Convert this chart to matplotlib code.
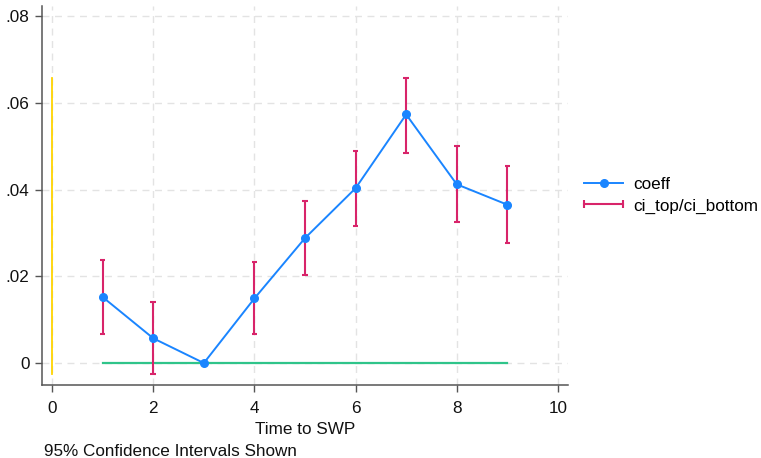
import numpy as np
import matplotlib.pyplot as plt
from matplotlib.lines import Line2D
from matplotlib.legend_handler import HandlerLine2D

plt.rcParams['font.family'] = ['Liberation Sans', 'DejaVu Sans']

# event time and estimates
time = [1, 2, 3, 4, 5, 6, 7, 8, 9]
coeff = [0.0152, 0.0057, 0.0, 0.0149, 0.0288, 0.0403, 0.0573, 0.0412, 0.0365]
ci_top = [0.0237, 0.0140, np.nan, 0.0232, 0.0373, 0.0488, 0.0658, 0.0500, 0.0454]
ci_bottom = [0.0068, -0.0025, np.nan, 0.0067, 0.0203, 0.0317, 0.0485, 0.0324, 0.0276]

xticks = [0, 2, 4, 6, 8, 10]
yticks = [0, 0.02, 0.04, 0.06, 0.08]
ytick_labels = ['0', '.02', '.04', '.06', '.08']

blue = '#1a85ff'
red = '#d8246a'
green = '#2fc48a'
yellow = '#ffd400'
fs = 12.3

fig = plt.figure(figsize=(7.61, 4.58), dpi=100)
ax = fig.add_axes([0.0552, 0.1594, 0.6912, 0.8275])

ax.grid(True, color='#e3e3e3', linestyle=(0, (5, 4)), linewidth=1.0)
ax.set_axisbelow(True)

# reference lines
ax.plot([0, 0], [np.nanmin(ci_bottom), np.nanmax(ci_top)], color=yellow, lw=1.3)
ax.plot([time[0], time[-1]], [0, 0], color=green, lw=1.6)

# confidence intervals
t = np.array(time)
top = np.array(ci_top)
bot = np.array(ci_bottom)
ok = ~np.isnan(top)
ax.vlines(t[ok], bot[ok], top[ok], color=red, lw=1.5)
ax.hlines(top[ok], t[ok] - 0.055, t[ok] + 0.055, color=red, lw=1.5)
ax.hlines(bot[ok], t[ok] - 0.055, t[ok] + 0.055, color=red, lw=1.5)

ax.plot(time, coeff, color=blue, lw=1.4, marker='o', ms=5.5, zorder=5)

ax.set_xlim(-0.2, 10.2)
ax.set_ylim(-0.00506, 0.0823)
ax.set_xticks(xticks)
ax.set_yticks(yticks)
ax.set_yticklabels(ytick_labels)
ax.tick_params(direction='out', length=5, width=1, color='#555555', labelsize=fs,
               labelcolor='#111111', pad=4)
ax.tick_params(axis='x', pad=6.5)

for s in ['top', 'right']:
    ax.spines[s].set_visible(False)
for s in ['left', 'bottom']:
    ax.spines[s].set_color('#555555')
    ax.spines[s].set_linewidth(1.1)

ax.set_xlabel('Time to SWP', fontsize=fs, labelpad=4, color='#111111')

h1 = Line2D([], [], color=blue, lw=1.4, marker='o', ms=5.5)
h2 = Line2D([], [], color=red, lw=1.5, marker='|', ms=6, mew=1.5)
fig.legend([h1, h2], ['coeff', 'ci_top/ci_bottom'],
           handler_map={h2: HandlerLine2D(numpoints=2, marker_pad=0)},
           loc='center left', bbox_to_anchor=(0.765, 0.574), frameon=False,
           fontsize=fs, handlelength=2.3, handletextpad=0.6, labelspacing=0.4,
           borderpad=0.1, borderaxespad=0)

fig.text(0.058, 0.015, '95% Confidence Intervals Shown', fontsize=fs,
         va='center', ha='left', color='#111111')

fig.savefig('out.png', dpi=100)
